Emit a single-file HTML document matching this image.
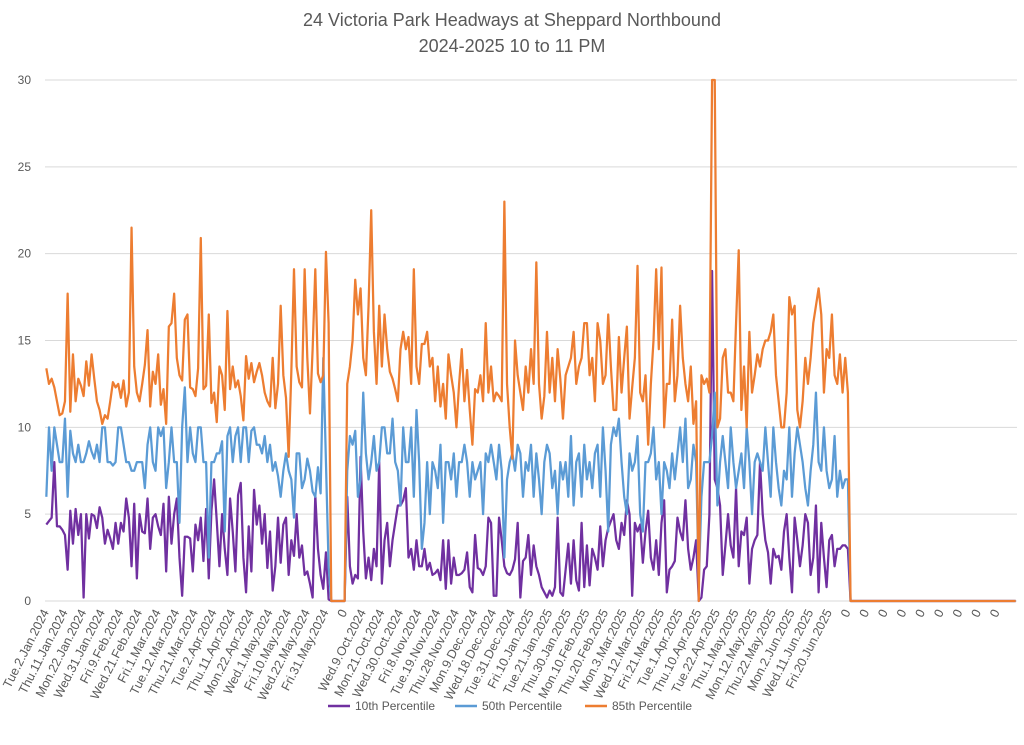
<!DOCTYPE html>
<html><head><meta charset="utf-8"><style>
html,body{margin:0;padding:0;background:#fff;}
svg{display:block;font-family:"Liberation Sans",sans-serif;}
</style></head><body>
<svg id="chart" width="1024" height="745" viewBox="0 0 1024 745">
<text x="512" y="26" text-anchor="middle" font-size="18" fill="#595959">24 Victoria Park Headways at Sheppard Northbound</text>
<text x="512" y="52" text-anchor="middle" font-size="18" fill="#595959">2024-2025 10 to 11 PM</text>
<g id="grid"></g>
<g id="yticks"></g>
<g id="xticks"></g>
<g id="series"></g>
<g>
<g><line x1="328" y1="706" x2="350" y2="706" stroke="#7030a0" stroke-width="2.5"/><text x="355" y="710" font-size="12" fill="#595959">10th Percentile</text></g>
<g><line x1="455" y1="706" x2="477" y2="706" stroke="#5b9bd5" stroke-width="2.5"/><text x="482" y="710" font-size="12" fill="#595959">50th Percentile</text></g>
<g><line x1="585" y1="706" x2="607" y2="706" stroke="#ed7d31" stroke-width="2.5"/><text x="612" y="710" font-size="12" fill="#595959">85th Percentile</text></g>
</g>
</svg>
<script>
const yTicks=[0,5,10,15,20,25,30];
const xLabels=["Tue.2.Jan.2024","Thu.11.Jan.2024","Mon.22.Jan.2024","Wed.31.Jan.2024","Fri.9.Feb.2024","Wed.21.Feb.2024","Fri.1.Mar.2024","Tue.12.Mar.2024","Thu.21.Mar.2024","Tue.2.Apr.2024","Thu.11.Apr.2024","Mon.22.Apr.2024","Wed.1.May.2024","Fri.10.May.2024","Wed.22.May.2024","Fri.31.May.2024","0","Wed.9.Oct.2024","Mon.21.Oct.2024","Wed.30.Oct.2024","Fri.8.Nov.2024","Tue.19.Nov.2024","Thu.28.Nov.2024","Mon.9.Dec.2024","Wed.18.Dec.2024","Tue.31.Dec.2024","Fri.10.Jan.2025","Tue.21.Jan.2025","Thu.30.Jan.2025","Mon.10.Feb.2025","Thu.20.Feb.2025","Mon.3.Mar.2025","Wed.12.Mar.2025","Fri.21.Mar.2025","Tue.1.Apr.2025","Thu.10.Apr.2025","Tue.22.Apr.2025","Thu.1.May.2025","Mon.12.May.2025","Thu.22.May.2025","Mon.2.Jun.2025","Wed.11.Jun.2025","Fri.20.Jun.2025","0","0","0","0","0","0","0","0","0"];
const labelStep=7;
const p85_2024=[13.4,12.5,12.8,12.3,11.5,10.7,10.8,11.5,17.7,10.9,14.2,11.5,12.8,12.4,11.8,13.8,12.4,14.2,12.8,11.5,11.0,10.2,10.7,10.5,11.5,12.6,12.3,12.5,11.7,12.7,11.2,12.0,21.5,13.5,12.0,11.5,12.5,13.6,15.6,11.2,13.2,12.5,14.2,11.3,12.2,10.2,15.8,16.0,17.7,14.0,13.0,12.7,16.2,16.5,12.3,12.2,11.8,13.4,20.9,12.2,12.4,16.5,11.4,12.0,10.3,13.5,13.0,11.0,16.7,12.2,13.5,12.3,12.7,11.8,10.4,14.1,12.8,13.7,12.6,13.2,13.7,13.0,12.0,11.5,11.2,14.0,11.1,12.5,17.0,13.0,11.7,8.3,13.2,19.1,13.5,12.6,12.3,19.1,14.0,10.8,14.5,19.1,13.1,12.6,13.0,20.1,16.0];
const p50_2024=[6.0,10.0,7.5,10.0,9.0,8.0,8.0,10.5,6.0,9.8,8.5,8.0,9.0,8.0,8.0,8.5,9.2,8.6,8.2,9.0,8.0,10.0,10.0,8.0,8.0,7.8,8.0,10.0,10.0,9.0,8.0,8.0,7.5,7.5,8.0,8.0,8.0,6.5,9.0,10.0,8.0,7.5,10.0,9.5,10.0,6.5,8.0,10.0,8.0,8.0,4.5,10.0,12.3,8.0,10.0,8.5,8.0,10.0,10.0,8.0,8.0,2.5,8.0,8.0,8.5,8.5,9.2,4.0,9.5,10.0,8.0,9.5,10.0,8.0,10.0,10.0,8.0,9.8,10.0,9.0,9.0,8.5,9.5,8.0,9.0,7.5,8.0,7.2,6.0,7.5,8.5,7.5,7.0,4.8,8.5,8.5,6.5,7.0,8.2,7.5,6.3,6.0,7.7,6.2,14.0,8.0,2.0];
const p10_2024=[4.4,4.6,4.8,8.0,4.3,4.3,4.1,3.8,1.8,5.2,3.3,5.3,3.8,5.0,0.2,5.0,3.6,5.0,4.9,4.2,5.4,4.8,3.3,4.1,3.6,3.0,4.5,3.3,4.5,4.0,5.9,4.8,2.0,5.6,1.3,5.0,4.0,3.9,5.9,3.0,4.8,5.0,4.3,3.8,5.6,1.7,6.0,3.3,5.0,5.9,2.5,0.3,3.7,3.7,3.6,1.7,4.4,3.5,4.8,2.3,5.3,1.3,5.2,7.0,4.6,2.0,5.0,3.0,1.5,5.9,4.0,1.7,6.1,6.8,2.5,0.5,4.3,1.7,6.4,4.4,5.5,3.3,5.0,1.9,4.0,0.6,2.0,4.8,2.2,4.4,4.8,1.5,3.5,2.6,5.0,2.5,3.2,1.5,1.7,1.0,0.2,6.1,3.0,1.5,0.7,2.8,0.1];
const gapValues=[0,0,0,0,0,0];
const p85_2025=[12.5,13.5,15,18.5,16.5,18.0,14.0,13.0,17.0,22.5,15.5,12.5,17.0,13.5,16.5,14.5,13.2,12.8,12.2,11.5,14.5,15.5,14.5,15.2,12.5,19.1,13.5,12.5,14.8,14.8,15.5,13.5,14.0,11.5,13.5,11.2,12.5,10.5,14.2,13.0,12.0,10.0,12.5,14.5,11.5,13.3,11.0,9.0,12.2,12.0,13.0,11.5,16.0,12.0,13.5,11.5,12.0,11.8,11.5,23.0,12.5,10.0,8.2,15.0,13.0,12.0,11.0,13.5,12.0,14.5,12.5,19.5,12.5,10.5,11.8,15.5,12.0,14.0,11.5,14.5,12.8,10.5,13.0,13.5,14.0,15.5,12.5,13.5,14.0,16.0,16.0,13.0,14.0,11.5,16.0,15.0,12.5,13.0,16.5,13.5,11.0,11.0,15.2,12.0,14.0,15.8,10.5,12.3,14.0,19.3,12.0,11.5,13.0,9.0,12.5,15.0,19.1,14.5,19.2,10.0,12.5,12.5,16.2,11.5,13.0,17.0,14.0,12.5,11.5,13.5,10.2,11.5,0.0,13.0,12.5,12.8,12.0,30.0,30.0,10.0,10.5,14.0,14.5,12.0,12.0,11.5,16.0,20.2,11.0,13.5,10.0,15.5,12.0,13.0,14.2,13.5,14.5,15.0,15.0,15.5,16.5,13.0,11.5,10.0,10.0,12.0,17.5,16.5,17.0,11.0,10.0,11.5,14.0,12.5,14.0,16.0,17.0,18.0,16.5,12.0,14.5,14.0,16.5,13.0,12.5,14.2,12.0,14.0,12.0];
const p50_2025=[7.5,9.5,9.0,9.8,6.0,7.0,12.0,8.5,7.0,8.0,9.5,7.5,8.0,10.0,10.0,8.5,8.5,10.5,8.0,7.5,5.5,10.0,8.0,8.0,10.0,6.0,11.0,8.0,3.0,4.5,8.0,5.0,8.0,7.5,6.5,9.0,4.5,8.0,8.0,7.0,8.5,6.0,8.0,8.0,9.0,8.0,6.0,8.0,7.0,7.5,8.0,5.0,8.5,8.0,9.0,8.0,7.0,9.0,7.5,2.5,7.0,8.0,8.5,7.5,9.0,8.5,6.0,8.0,7.5,9.0,6.0,8.5,7.0,5.0,8.0,9.0,8.5,6.5,7.5,5.0,8.0,7.0,8.0,6.0,9.5,5.5,8.0,8.5,6.0,9.0,7.0,8.0,6.5,8.5,9.0,6.0,10.0,7.5,4.0,9.0,10.0,9.5,10.5,8.0,6.0,5.0,8.5,7.5,8.0,9.5,5.0,4.0,8.0,8.0,8.5,10.0,7.0,8.0,5.0,8.0,7.5,6.5,8.5,7.0,8.5,10.0,8.0,10.5,6.5,7.0,9.0,8.0,1.0,6.0,8.0,8.0,8.0,9.5,12.0,5.5,8.0,9.5,8.0,6.5,10.0,8.0,6.5,7.5,8.5,6.5,10.0,8.0,5.0,8.0,8.5,8.0,7.5,10.0,8.0,6.0,10.0,8.0,6.5,5.5,7.5,7.0,10.0,6.0,8.5,10.0,9.0,8.0,6.5,5.5,7.5,9.0,12.0,8.0,7.5,10.0,7.5,6.5,7.0,9.5,6.0,7.5,6.5,7.0,7.0];
const p10_2025=[6.0,2.0,1.0,1.5,1.3,8.3,4.0,1.3,2.5,1.2,3.0,2.0,8.0,1.0,3.5,4.5,2.0,3.5,4.5,5.5,5.5,5.8,6.5,2.5,3.0,1.8,3.5,2.0,2.0,3.0,1.8,2.2,1.5,1.6,1.8,1.2,3.5,0.7,3.5,1.0,2.5,1.5,1.5,1.6,1.8,2.8,0.8,0.5,3.8,1.9,1.8,1.5,2.0,4.8,4.5,0.3,0.3,4.8,3.5,2.0,1.6,1.5,1.8,2.4,4.5,0.2,2.3,2.5,3.8,1.5,3.2,2.0,1.5,0.8,0.5,0.2,0.6,0.3,0.8,4.8,0.5,0.3,1.8,3.3,1.0,3.5,1.2,0.6,4.5,0.8,3.2,0.9,3.0,2.5,1.8,4.3,2.0,3.5,4.2,4.6,5.0,3.5,3.0,4.5,3.8,5.8,5.0,0.3,4.5,4.0,4.4,2.2,4.0,5.2,2.5,1.8,3.5,1.5,4.5,5.8,0.5,1.8,2.0,2.3,4.8,4.0,3.5,5.8,3.0,1.8,2.5,3.5,0.0,0.2,1.8,2.0,5.0,19.0,7.0,6.5,5.5,1.5,3.2,5.0,3.2,2.5,6.5,2.0,4.0,3.8,4.8,1.0,3.0,3.5,3.8,8.0,5.0,3.5,2.8,1.0,3.0,2.5,2.6,1.8,4.0,5.0,2.5,0.5,4.8,3.5,2.0,3.2,5.0,4.5,1.5,2.5,5.5,0.5,4.5,2.5,0.8,3.5,3.8,2.0,3.0,3.0,3.2,3.2,3.0];
const tailValues=[0,0,0,0,0,0,0,0,0,0,0,0,0,0,0,0,0,0,0,0,0,0,0,0,0,0,0,0,0,0,0,0,0,0,0,0,0,0,0,0,0,0,0,0,0,0,0,0,0,0,0,0,0,0,0,0,0,0,0,0,0,0,0];

const p10=p10_2024.concat(gapValues,p10_2025,tailValues);
const p50=p50_2024.concat(gapValues,p50_2025,tailValues);
const p85=p85_2024.concat(gapValues,p85_2025,tailValues);
const N=365;
const X0=45,X1=1017,Y0=601,Y1=80,YMAX=30;
const bw=(X1-X0)/N;
function xs(i){return X0+bw*(i+0.5);}
function ys(v){return Y0-(v/YMAX)*(Y0-Y1);}
const NS="http://www.w3.org/2000/svg";
const grid=document.getElementById('grid'),yt=document.getElementById('yticks'),xt=document.getElementById('xticks'),sg=document.getElementById('series');
yTicks.forEach(t=>{
  const l=document.createElementNS(NS,'line');
  l.setAttribute('x1',X0);l.setAttribute('x2',X1);l.setAttribute('y1',ys(t));l.setAttribute('y2',ys(t));
  l.setAttribute('stroke','#d9d9d9');l.setAttribute('stroke-width','1');
  
  
  grid.appendChild(l);
  const tx=document.createElementNS(NS,'text');
  tx.setAttribute('x',31);tx.setAttribute('y',ys(t)+4);tx.setAttribute('text-anchor','end');
  tx.setAttribute('font-size','12');tx.setAttribute('fill','#595959');tx.textContent=t;
  
  
  yt.appendChild(tx);
});
xLabels.forEach((lab,k)=>{
  const x=xs(k*labelStep);
  const tx=document.createElementNS(NS,'text');
  tx.setAttribute('x',x+3);tx.setAttribute('y',612);tx.setAttribute('text-anchor','end');
  tx.setAttribute('font-size','12.5');tx.setAttribute('fill','#595959');
  tx.setAttribute('transform','rotate(-63 '+(x+3)+' 612)');
  tx.textContent=lab;
  
  
  xt.appendChild(tx);
});
function drawLine(arr,color,name){
  let d='';
  arr.forEach((v,i)=>{d+=(i?'L':'M')+xs(i).toFixed(2)+' '+ys(v).toFixed(2);});
  const p=document.createElementNS(NS,'path');
  p.setAttribute('d',d);p.setAttribute('fill','none');p.setAttribute('stroke',color);
  p.setAttribute('stroke-width','2.25');p.setAttribute('stroke-linejoin','round');
  
  
  sg.appendChild(p);
}
drawLine(p10,'#7030a0','line-10th-percentile');
drawLine(p50,'#5b9bd5','line-50th-percentile');
drawLine(p85,'#ed7d31','line-85th-percentile');
</script>
</body></html>
